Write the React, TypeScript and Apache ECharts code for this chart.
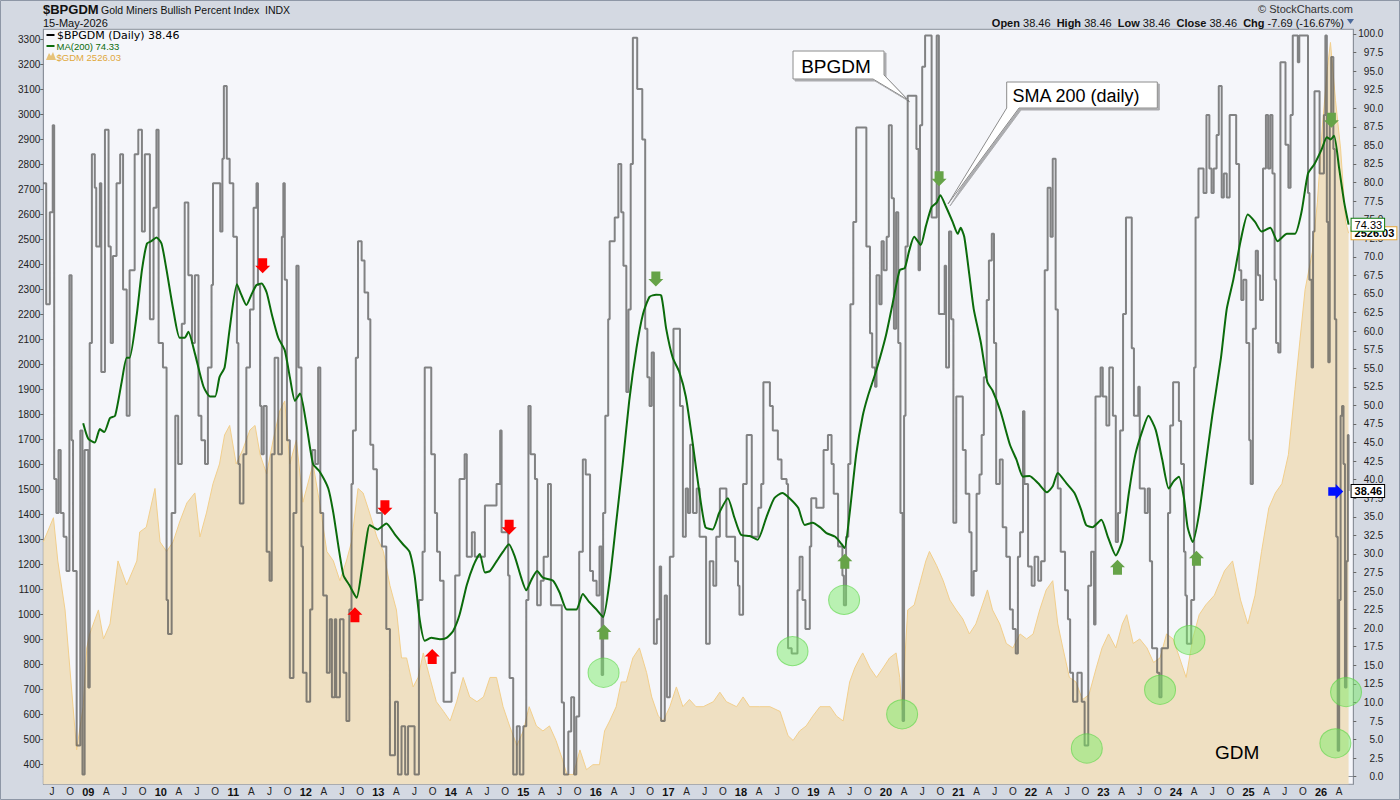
import React, { useEffect, useRef } from "react";
import * as echarts from "echarts";

// ---------- DATA (x = decimal year) ----------
// $BPGDM daily bullish percent, read as [date, value] step points
const bpgdmPoints: [number, number][] = [
  [2008.38, 79.9], [2008.42, 63.6], [2008.47, 76], [2008.51, 87.7], [2008.53, 40.1], [2008.56, 35.5],
  [2008.59, 44], [2008.62, 35.5], [2008.66, 32.3], [2008.7, 27.7], [2008.74, 67.5], [2008.77, 45.3],
  [2008.79, 27.7], [2008.84, 4.2], [2008.89, 46.6], [2008.92, 0.3], [2008.95, 44], [2009.0, 12],
  [2009.02, 58.4], [2009.05, 83.8], [2009.09, 79.3], [2009.11, 71.4], [2009.16, 79.9], [2009.18, 54.5],
  [2009.23, 87.1], [2009.28, 71.4], [2009.31, 58.4], [2009.34, 70.1], [2009.39, 79.9], [2009.44, 83.8],
  [2009.48, 65.6], [2009.53, 48.6], [2009.57, 68.2], [2009.64, 83.8], [2009.69, 87.1], [2009.74, 73.4],
  [2009.78, 83.8], [2009.85, 61.6], [2009.9, 76.6], [2009.94, 87.1], [2009.97, 58.4], [2010.03, 55.1],
  [2010.08, 23.8], [2010.1, 19.2], [2010.15, 35.5], [2010.2, 48.6], [2010.24, 42.1], [2010.29, 61],
  [2010.33, 77.3], [2010.38, 67.5], [2010.43, 58.4], [2010.47, 67.5], [2010.52, 48.6], [2010.56, 45.3],
  [2010.61, 42.1], [2010.65, 55.1], [2010.7, 66.2], [2010.72, 79.9], [2010.82, 73.4], [2010.85, 83.2],
  [2010.87, 93], [2010.91, 83.2], [2010.95, 79.9], [2011.0, 72.7], [2011.05, 58.4], [2011.07, 42.1],
  [2011.09, 36.8], [2011.14, 43.4], [2011.18, 55.1], [2011.23, 62.9], [2011.28, 76.6], [2011.32, 79.9],
  [2011.34, 66.2], [2011.37, 49.9], [2011.39, 43.4], [2011.42, 49.9], [2011.46, 30.3], [2011.5, 26.4],
  [2011.53, 43.4], [2011.57, 56.4], [2011.62, 43.4], [2011.67, 72.7], [2011.69, 79.9], [2011.71, 66.9],
  [2011.74, 45.3], [2011.78, 13.3], [2011.83, 35.5], [2011.87, 68.8], [2011.9, 55.1], [2011.94, 31],
  [2011.96, 14], [2012.01, 10.1], [2012.06, 22.5], [2012.09, 44], [2012.13, 42.1], [2012.17, 55.1],
  [2012.2, 35.5], [2012.24, 24.4], [2012.29, 14], [2012.33, 21.2], [2012.36, 10.7], [2012.4, 21.2],
  [2012.42, 10.7], [2012.47, 21.2], [2012.52, 14], [2012.56, 7.5], [2012.6, 22.5], [2012.63, 39.4],
  [2012.65, 46.6], [2012.69, 56.4], [2012.72, 72.1], [2012.77, 69.5], [2012.81, 65.2], [2012.86, 61.6],
  [2012.89, 44.7], [2012.93, 41.4], [2012.98, 35.5], [2013.05, 31], [2013.11, 19.9], [2013.16, 2.9],
  [2013.23, 10.1], [2013.27, 0.3], [2013.32, 6.8], [2013.37, 0.3], [2013.41, 6.8], [2013.5, 0.3],
  [2013.56, 23.8], [2013.61, 30.3], [2013.64, 55.1], [2013.73, 43.4], [2013.78, 35.5], [2013.81, 30.3],
  [2013.85, 26.4], [2013.9, 10.1], [2014.01, 14], [2014.06, 27.1], [2014.12, 40.1], [2014.19, 43.4],
  [2014.22, 29.6], [2014.29, 32.9], [2014.33, 29.6], [2014.47, 36.5], [2014.63, 39.4], [2014.68, 46.6],
  [2014.7, 32.9], [2014.79, 27.1], [2014.81, 13.3], [2014.86, 0.3], [2014.91, 6.8], [2014.95, 0.3],
  [2015.0, 6.8], [2015.04, 23.8], [2015.07, 49.9], [2015.1, 43.4], [2015.16, 40.1], [2015.19, 23.1],
  [2015.24, 26.4], [2015.28, 29.6], [2015.34, 39.4], [2015.38, 23.1], [2015.53, 10], [2015.56, 0.3],
  [2015.62, 6.1], [2015.66, 10.7], [2015.7, 0.3], [2015.73, 8.1], [2015.77, 30.3], [2015.82, 42.7],
  [2015.86, 40.7], [2015.92, 27.7], [2015.96, 26.4], [2016.01, 24.4], [2016.05, 31], [2016.08, 13.7],
  [2016.1, 35.5], [2016.13, 48.6], [2016.17, 61.6], [2016.19, 72.1], [2016.26, 75.3], [2016.31, 82.5],
  [2016.35, 76], [2016.38, 68.8], [2016.42, 51.8], [2016.45, 62.9], [2016.48, 82.5], [2016.51, 99.5],
  [2016.57, 92.6], [2016.64, 85.8], [2016.68, 60.3], [2016.71, 53.8], [2016.74, 49.9], [2016.77, 57.1],
  [2016.8, 17.9], [2016.84, 21.2], [2016.88, 28.3], [2016.9, 7.5], [2016.95, 24.4], [2016.98, 10.7],
  [2017.02, 29.6], [2017.07, 60.3], [2017.16, 49.9], [2017.2, 32.3], [2017.24, 38.8], [2017.27, 35.5],
  [2017.3, 44.7], [2017.34, 35.5], [2017.39, 38.8], [2017.43, 32.3], [2017.52, 17.9], [2017.57, 29],
  [2017.62, 25.7], [2017.66, 32.3], [2017.71, 38.8], [2017.8, 32.3], [2017.92, 29], [2017.96, 25.7],
  [2017.98, 21.8], [2018.03, 39.4], [2018.08, 46], [2018.15, 32.3], [2018.24, 36.2], [2018.28, 39.4],
  [2018.31, 53.1], [2018.4, 49.9], [2018.44, 46.6], [2018.51, 42.7], [2018.56, 40.1], [2018.63, 39.4],
  [2018.65, 17.3], [2018.7, 16.6], [2018.78, 25.1], [2018.81, 29.6], [2018.85, 23.8], [2018.89, 19.9],
  [2018.95, 31], [2018.97, 37.5], [2019.04, 36.2], [2019.14, 44], [2019.2, 46], [2019.25, 42.1],
  [2019.28, 38.1], [2019.34, 31], [2019.4, 27.1], [2019.42, 23.1], [2019.45, 32.3], [2019.48, 42.1],
  [2019.51, 63.6], [2019.55, 74.7], [2019.59, 87.4], [2019.73, 71.4], [2019.78, 59.7], [2019.81, 55.1],
  [2019.85, 52.5], [2019.87, 67.5], [2019.91, 63.6], [2019.94, 72.1], [2019.97, 68.2], [2020.01, 72.7],
  [2020.04, 87.7], [2020.08, 77.9], [2020.11, 60.3], [2020.14, 76], [2020.17, 58.4], [2020.2, 35.5],
  [2020.23, 7.5], [2020.25, 48.6], [2020.27, 71.4], [2020.3, 91.7], [2020.42, 84.5], [2020.45, 68.2],
  [2020.47, 87.7], [2020.5, 95.6], [2020.54, 99.8], [2020.63, 75.3], [2020.7, 99.8], [2020.73, 62.3],
  [2020.81, 68.8], [2020.83, 55.1], [2020.87, 73.4], [2020.9, 61.6], [2020.93, 34.2], [2020.97, 51.2],
  [2021.06, 44], [2021.1, 38.1], [2021.15, 32.9], [2021.18, 24.4], [2021.21, 27.7], [2021.25, 38.1],
  [2021.29, 40.7], [2021.32, 46], [2021.35, 53.8], [2021.39, 64.2], [2021.42, 69.5], [2021.46, 73.1],
  [2021.49, 58.4], [2021.52, 39.4], [2021.57, 42.7], [2021.61, 33.6], [2021.66, 29.6], [2021.71, 22.5],
  [2021.75, 19.9], [2021.79, 16.6], [2021.82, 29.6], [2021.85, 32.9], [2021.89, 49.2], [2021.91, 39.4],
  [2021.96, 28.3], [2022.01, 25.7], [2022.05, 29.6], [2022.1, 26.4], [2022.14, 29], [2022.19, 68.2],
  [2022.23, 79.3], [2022.27, 72.7], [2022.3, 83.2], [2022.34, 62.9], [2022.37, 38.8], [2022.41, 30.3],
  [2022.47, 25.1], [2022.51, 21.2], [2022.54, 14], [2022.58, 10.1], [2022.64, 14], [2022.7, 10.1],
  [2022.74, 4.2], [2022.79, 25.7], [2022.83, 30.3], [2022.87, 20.5], [2022.89, 51.2], [2022.96, 55.1],
  [2022.99, 51.2], [2023.04, 47.3], [2023.08, 55.1], [2023.13, 48.6], [2023.17, 31.6], [2023.2, 35.5],
  [2023.23, 46.6], [2023.27, 62.3], [2023.31, 75.3], [2023.39, 57.7], [2023.42, 48.6], [2023.48, 52.5],
  [2023.5, 38.8], [2023.57, 35.5], [2023.61, 38.8], [2023.64, 29], [2023.67, 17.3], [2023.74, 14],
  [2023.77, 10.7], [2023.8, 17.3], [2023.89, 35.5], [2023.92, 47.3], [2023.96, 53.1], [2024.04, 47.9],
  [2024.07, 42.1], [2024.11, 30.3], [2024.13, 24.4], [2024.15, 17.9], [2024.21, 23.8], [2024.25, 55.1],
  [2024.27, 75.3], [2024.31, 81.9], [2024.38, 78.6], [2024.42, 89.1], [2024.46, 81.9], [2024.49, 78.6],
  [2024.52, 81.9], [2024.56, 86.4], [2024.59, 93], [2024.63, 78], [2024.66, 81.2], [2024.7, 78],
  [2024.74, 89.1], [2024.83, 82.5], [2024.87, 68.2], [2024.9, 64.2], [2024.93, 66.9], [2024.97, 58.4],
  [2025.01, 45.3], [2025.03, 39.4], [2025.06, 60.3], [2025.1, 70.8], [2025.13, 67.5], [2025.16, 64.2],
  [2025.2, 81.9], [2025.24, 89.1], [2025.27, 81.9], [2025.3, 89.1], [2025.33, 81.2], [2025.36, 66.9],
  [2025.38, 58.4], [2025.41, 57.1], [2025.44, 96.2], [2025.51, 85.1], [2025.55, 79.3], [2025.58, 89.1],
  [2025.61, 99.8], [2025.68, 96.2], [2025.7, 99.8], [2025.82, 78.6], [2025.84, 66.9], [2025.87, 55.1],
  [2025.89, 73.4], [2025.91, 92.3], [2025.98, 81.2], [2026.04, 89.1], [2026.06, 99.8], [2026.08, 74.7],
  [2026.1, 55.8], [2026.12, 89.1], [2026.14, 96.9], [2026.17, 84.5], [2026.19, 61.6], [2026.21, 32.3],
  [2026.23, 3.5], [2026.25, 23.8], [2026.27, 48.6], [2026.29, 49.9], [2026.31, 42.1], [2026.33, 12],
  [2026.35, 29], [2026.37, 46], [2026.38, 38.46],
];

// MA(200) of $BPGDM
const smaPoints: [number, number][] = [
  [2008.93, 47.6], [2009.0, 45.5], [2009.09, 45.0], [2009.16, 46.8], [2009.22, 46.4], [2009.3, 48.3],
  [2009.37, 48.6], [2009.46, 53.1], [2009.53, 56.4], [2009.57, 56.4], [2009.67, 62.3], [2009.74, 68.2],
  [2009.81, 71.8], [2009.87, 72.1], [2009.94, 72.6], [2010.01, 71.8], [2010.08, 68.2], [2010.17, 63.0],
  [2010.26, 59.1], [2010.33, 59.1], [2010.38, 59.9], [2010.47, 57.0], [2010.59, 52.5], [2010.68, 51.2],
  [2010.75, 51.2], [2010.81, 53.8], [2010.88, 55.1], [2010.95, 60.3], [2011.05, 66.3], [2011.11, 64.9],
  [2011.18, 63.5], [2011.25, 64.9], [2011.32, 66.2], [2011.39, 66.4], [2011.46, 65.2], [2011.53, 62.3],
  [2011.62, 59.1], [2011.71, 57.4], [2011.78, 53.8], [2011.85, 50.6], [2011.92, 51.6], [2012.01, 47.3],
  [2012.1, 42.1], [2012.19, 41.1], [2012.31, 38.8], [2012.38, 35.5], [2012.45, 31.0], [2012.52, 27.1],
  [2012.6, 25.8], [2012.7, 24.1], [2012.77, 27.7], [2012.83, 31.6], [2012.88, 33.9], [2012.99, 33.3],
  [2013.11, 34.1], [2013.23, 32.6], [2013.34, 31.3], [2013.43, 30.3], [2013.5, 27.1], [2013.57, 21.2],
  [2013.64, 18.3], [2013.73, 18.7], [2013.85, 18.5], [2013.94, 18.7], [2014.03, 19.6], [2014.12, 21.8],
  [2014.22, 25.8], [2014.31, 28.4], [2014.4, 30.0], [2014.47, 27.5], [2014.54, 27.7], [2014.63, 29.0],
  [2014.72, 30.3], [2014.8, 31.3], [2014.88, 29.7], [2014.97, 26.8], [2015.04, 25.1], [2015.11, 26.5],
  [2015.19, 27.7], [2015.27, 26.8], [2015.41, 26.4], [2015.5, 24.8], [2015.6, 22.5], [2015.73, 22.5],
  [2015.82, 24.6], [2015.91, 23.5], [2016.01, 22.5], [2016.1, 21.5], [2016.19, 26.4], [2016.28, 34.2],
  [2016.37, 42.1], [2016.46, 50.6], [2016.56, 57.7], [2016.65, 62.3], [2016.74, 64.6], [2016.83, 64.9],
  [2016.9, 64.8], [2016.97, 60.3], [2017.06, 56.4], [2017.15, 54.5], [2017.24, 51.2], [2017.33, 45.3],
  [2017.42, 38.8], [2017.51, 33.6], [2017.61, 33.3], [2017.7, 35.5], [2017.82, 37.5], [2017.91, 34.9],
  [2018.0, 32.6], [2018.12, 32.4], [2018.23, 31.9], [2018.35, 34.9], [2018.46, 37.5], [2018.57, 38.2],
  [2018.67, 37.5], [2018.79, 36.2], [2018.88, 33.9], [2018.99, 34.2], [2019.09, 33.6], [2019.18, 32.8],
  [2019.3, 32.3], [2019.39, 31.3], [2019.43, 30.8], [2019.5, 35.5], [2019.59, 43.4], [2019.68, 48.6],
  [2019.75, 51.2], [2019.87, 54.8], [2020.0, 59.4], [2020.09, 63.6], [2020.19, 68.2], [2020.26, 68.5],
  [2020.32, 70.8], [2020.39, 72.7], [2020.48, 71.6], [2020.55, 74.1], [2020.63, 76.7], [2020.7, 77.3],
  [2020.75, 78.3], [2020.83, 76.7], [2020.92, 74.7], [2020.99, 73.1], [2021.03, 73.9], [2021.08, 72.7],
  [2021.15, 67.6], [2021.21, 63.0], [2021.31, 58.4], [2021.4, 53.1], [2021.47, 52.0], [2021.58, 49.2],
  [2021.71, 44.7], [2021.8, 42.7], [2021.89, 40.4], [2021.98, 40.5], [2022.1, 39.5], [2022.22, 38.3],
  [2022.3, 39.1], [2022.37, 40.9], [2022.49, 39.5], [2022.6, 38.2], [2022.69, 36.0], [2022.76, 33.9],
  [2022.85, 33.6], [2022.97, 34.6], [2023.06, 32.3], [2023.17, 29.8], [2023.26, 31.8], [2023.35, 38.2],
  [2023.44, 43.4], [2023.54, 46.7], [2023.62, 48.6], [2023.72, 46.7], [2023.81, 42.7], [2023.9, 38.8],
  [2023.97, 39.8], [2024.04, 40.4], [2024.11, 37.5], [2024.16, 33.6], [2024.23, 31.6], [2024.32, 35.5],
  [2024.41, 42.1], [2024.5, 48.6], [2024.62, 56.4], [2024.7, 63.0], [2024.79, 66.9], [2024.89, 72.1],
  [2024.99, 75.7], [2025.09, 74.7], [2025.18, 73.4], [2025.3, 73.9], [2025.4, 72.1], [2025.53, 73.1],
  [2025.64, 73.1], [2025.73, 76.0], [2025.82, 81.2], [2025.91, 82.5], [2026.01, 84.5], [2026.08, 86.1],
  [2026.13, 85.8], [2026.18, 86.3], [2026.25, 81.9], [2026.32, 77.3], [2026.38, 74.33],
];

// $GDM (Gold Miners index), left axis
const gdmPoints: [number, number][] = [
  [2008.38, 1291], [2008.52, 1388], [2008.58, 1215], [2008.68, 1019], [2008.79, 632], [2008.84, 459],
  [2008.93, 632], [2008.98, 867], [2009.02, 923], [2009.14, 1019], [2009.21, 903], [2009.3, 963],
  [2009.41, 1215], [2009.53, 1119], [2009.67, 1215], [2009.71, 1331], [2009.8, 1350], [2009.92, 1505],
  [2009.99, 1291], [2010.08, 1253], [2010.17, 1291], [2010.26, 1371], [2010.36, 1447], [2010.47, 1487],
  [2010.54, 1311], [2010.63, 1407], [2010.72, 1524], [2010.81, 1603], [2010.88, 1719], [2010.95, 1757],
  [2011.04, 1603], [2011.13, 1660], [2011.23, 1739], [2011.3, 1757], [2011.37, 1640], [2011.46, 1563],
  [2011.55, 1699], [2011.64, 1815], [2011.71, 1855], [2011.78, 1603], [2011.87, 1699], [2011.96, 1450],
  [2012.1, 1603], [2012.19, 1447], [2012.29, 1253], [2012.38, 1215], [2012.47, 1136], [2012.56, 1215],
  [2012.63, 1291], [2012.72, 1505], [2012.79, 1487], [2012.88, 1407], [2012.98, 1311], [2013.07, 1253],
  [2013.16, 1117], [2013.25, 1019], [2013.32, 827], [2013.39, 827], [2013.48, 711], [2013.55, 750],
  [2013.62, 847], [2013.71, 749], [2013.8, 652], [2013.9, 613], [2013.99, 575], [2014.08, 652],
  [2014.17, 749], [2014.26, 671], [2014.36, 652], [2014.45, 671], [2014.54, 749], [2014.63, 749],
  [2014.72, 632], [2014.81, 555], [2014.91, 477], [2015.0, 535], [2015.08, 632], [2015.18, 555],
  [2015.27, 535], [2015.36, 555], [2015.45, 497], [2015.54, 420], [2015.6, 361], [2015.69, 361],
  [2015.78, 459], [2015.87, 380], [2015.96, 400], [2016.05, 400], [2016.12, 535], [2016.19, 575],
  [2016.28, 632], [2016.35, 731], [2016.42, 731], [2016.51, 827], [2016.6, 867], [2016.7, 768],
  [2016.77, 671], [2016.86, 595], [2016.93, 575], [2017.02, 632], [2017.11, 711], [2017.2, 632],
  [2017.29, 661], [2017.38, 632], [2017.48, 632], [2017.62, 652], [2017.71, 690], [2017.8, 652],
  [2017.94, 632], [2018.03, 671], [2018.12, 632], [2018.26, 632], [2018.4, 632], [2018.54, 613],
  [2018.65, 516], [2018.72, 497], [2018.81, 535], [2018.9, 555], [2018.99, 594], [2019.09, 632],
  [2019.23, 632], [2019.32, 594], [2019.41, 575], [2019.5, 731], [2019.57, 787], [2019.64, 827],
  [2019.68, 847], [2019.78, 787], [2019.87, 749], [2019.96, 787], [2020.05, 827], [2020.14, 847],
  [2020.19, 749], [2020.22, 620], [2020.3, 1019], [2020.39, 1039], [2020.46, 1117], [2020.55, 1215],
  [2020.6, 1253], [2020.7, 1196], [2020.79, 1136], [2020.88, 1059], [2020.97, 1019], [2021.06, 983],
  [2021.15, 923], [2021.24, 963], [2021.33, 1039], [2021.4, 1099], [2021.47, 1019], [2021.57, 963],
  [2021.66, 885], [2021.75, 867], [2021.85, 923], [2021.94, 903], [2022.03, 923], [2022.12, 1019],
  [2022.21, 1099], [2022.3, 1136], [2022.37, 963], [2022.44, 867], [2022.53, 749], [2022.62, 731],
  [2022.71, 660], [2022.8, 680], [2022.9, 787], [2022.98, 867], [2023.07, 923], [2023.17, 867],
  [2023.26, 963], [2023.32, 1000], [2023.41, 885], [2023.5, 903], [2023.6, 867], [2023.69, 809],
  [2023.78, 827], [2023.87, 923], [2023.96, 903], [2024.05, 827], [2024.14, 749], [2024.23, 903],
  [2024.32, 1000], [2024.41, 1039], [2024.53, 1078], [2024.67, 1176], [2024.78, 1215], [2024.89, 1059],
  [2024.99, 963], [2025.09, 1078], [2025.18, 1253], [2025.28, 1427], [2025.37, 1487], [2025.46, 1524],
  [2025.55, 1640], [2025.64, 1900], [2025.71, 2100], [2025.78, 2300], [2025.88, 2450], [2025.95, 2650],
  [2026.02, 2959], [2026.09, 3192], [2026.13, 3289], [2026.2, 3056], [2026.27, 2863], [2026.34, 2571],
  [2026.38, 2526.03],
];

// Annotation marks, placed on the BPGDM (right) scale
const greenCircles: [number, number][] = [
  [2016.106, 14.0], [2018.712, 16.9], [2019.423, 23.8], [2020.223, 8.4], [2022.77, 3.8],
  [2023.78, 11.7], [2024.186, 18.4], [2026.198, 4.5], [2026.345, 11.4],
];
const redDownArrows: [number, number][] = [[2011.405, 68.8], [2013.091, 36.2], [2014.804, 33.6]];
const redUpArrows: [number, number][] = [[2012.677, 21.8], [2013.743, 16.2]];
const greenDownArrows: [number, number][] = [[2016.827, 67.0], [2020.733, 80.5], [2026.143, 88.4]];
const greenUpArrows: [number, number][] = [[2016.11, 19.5], [2019.433, 29.0], [2023.193, 28.2], [2024.282, 29.4]];
const blueArrows: [number, number][] = [[2026.203, 38.4]];

const leftTicks: number[] = [];
for (let v = 400; v <= 3300; v += 100) leftTicks.push(v);
const rightTicks: number[] = [];
for (let i = 0; i <= 40; i++) rightTicks.push(i * 2.5);
const quarterTicks: number[] = [];
for (let y = 2008; y <= 2026; y++) {
  for (let q = 0; q < 4; q++) {
    const v = y + q * 0.25;
    if (v > 2008.4 && v < 2026.44) quarterTicks.push(v);
  }
}
const monthLetters = ["", "A", "J", "O"];

const FONT = "'Liberation Sans', Arial, sans-serif";
const X_MIN = 2008.38;
const X_MAX = 2026.445;

const DOWN = "path://M3,0L12,0L12,7.5L15,7.5L7.5,15L0,7.5L3,7.5Z";
const UP = "path://M7.5,0L15,7.5L12,7.5L12,15L3,15L3,7.5L0,7.5Z";
const RIGHT = "path://M0,3L7.5,3L7.5,0L15,7L7.5,14L7.5,11L0,11Z";

function arrowSeries(data: [number, number][], symbol: string, color: string) {
  return {
    type: "scatter",
    yAxisIndex: 1,
    data,
    symbol,
    symbolSize: [15, 15],
    itemStyle: { color, opacity: 1 },
    silent: true,
    z: 7,
  };
}

export default function App() {
  const ref = useRef<HTMLDivElement>(null);

  useEffect(() => {
    if (!ref.current) return;
    const chart = echarts.init(ref.current, null, { renderer: "svg" });

    const tag = (text: string, border: string, bold: boolean) => ({
      show: true,
      formatter: () => text,
      fontFamily: FONT,
      fontSize: 11,
      fontWeight: bold ? "bold" : "normal",
      color: "#000",
      backgroundColor: "#fff",
      borderColor: border,
      borderWidth: 1,
      padding: [1, 2, 0, 3],
      distance: 3,
    });

    const option: any = {
      animation: false,
      backgroundColor: "#d4d9e2",
      grid: {
        left: 43.3,
        right: 46.7,
        top: 29.3,
        bottom: 15.7,
        show: true,
        backgroundColor: "#f5f6fa",
        borderColor: "#8a909a",
        borderWidth: 1,
      },
      xAxis: {
        type: "value",
        min: X_MIN,
        max: X_MAX,
        splitLine: { show: false },
        axisLine: { show: true, lineStyle: { color: "#8a909a" } },
        axisTick: { show: true, customValues: quarterTicks, length: 3, lineStyle: { color: "#666" } },
        axisLabel: {
          customValues: quarterTicks,
          fontFamily: FONT,
          fontSize: 10,
          color: "#222",
          margin: 2,
          formatter: (v: number) => {
            const y = Math.floor(v + 1e-6);
            const q = Math.round((v - y) * 4);
            if (q === 0) return "{y|" + String(y % 100).padStart(2, "0") + "}";
            return monthLetters[q];
          },
          rich: { y: { fontWeight: "bold", fontSize: 11, fontFamily: FONT, color: "#111" } },
        },
      },
      yAxis: [
        {
          type: "value",
          position: "left",
          min: 321.6,
          max: 3341.6,
          splitLine: { show: false },
          axisLine: { show: true, lineStyle: { color: "#8a909a" } },
          axisTick: { show: true, customValues: leftTicks, length: 3, lineStyle: { color: "#666" } },
          axisLabel: {
            customValues: leftTicks,
            fontFamily: FONT,
            fontSize: 10,
            color: "#222",
            margin: 3,
            formatter: (v: number) => String(Math.round(v)),
          },
        },
        {
          type: "value",
          position: "right",
          min: -1.02,
          max: 100.63,
          splitLine: { show: false },
          axisLine: { show: true, lineStyle: { color: "#8a909a" } },
          axisTick: { show: true, customValues: rightTicks, length: 3, lineStyle: { color: "#666" } },
          axisLabel: {
            customValues: rightTicks,
            fontFamily: FONT,
            fontSize: 10,
            color: "#222",
            margin: 30,
            align: "right",
            formatter: (v: number) => v.toFixed(1),
          },
        },
      ],
      series: [
        {
          name: "$GDM",
          type: "line",
          yAxisIndex: 0,
          data: gdmPoints,
          showSymbol: false,
          symbol: "none",
          lineStyle: { color: "#f2cf8c", width: 1 },
          areaStyle: { color: "#efe0c2", opacity: 1, origin: "start" },
          z: 2,
          silent: true,
          endLabel: tag("2526.03", "#e8a838", true),
        },
        {
          name: "$BPGDM",
          type: "line",
          yAxisIndex: 1,
          data: bpgdmPoints,
          step: "end",
          showSymbol: false,
          symbol: "none",
          lineStyle: { color: "rgba(85,85,85,0.72)", width: 2 },
          z: 3,
          silent: true,
          endLabel: tag("38.46", "#000", true),
        },
        {
          name: "MA(200)",
          type: "line",
          yAxisIndex: 1,
          data: smaPoints,
          smooth: 0.2,
          showSymbol: false,
          symbol: "none",
          lineStyle: { color: "#0b6b0b", width: 2 },
          z: 4,
          silent: true,
          endLabel: tag("74.33", "#0b7a0b", false),
        },
        {
          type: "scatter",
          yAxisIndex: 1,
          data: greenCircles,
          symbol: "circle",
          symbolSize: [31, 29],
          itemStyle: { color: "rgba(120,236,100,0.6)", borderColor: "rgba(90,215,70,0.8)", borderWidth: 1 },
          silent: true,
          z: 6,
        },
        arrowSeries(redDownArrows, DOWN, "#ff0000"),
        arrowSeries(redUpArrows, UP, "#ff0000"),
        arrowSeries(greenDownArrows, DOWN, "#66a348"),
        arrowSeries(greenUpArrows, UP, "#66a348"),
        arrowSeries(blueArrows, RIGHT, "#0010ff"),
      ],
      graphic: [
        { type: "rect", shape: { x: 0.5, y: 0.5, width: 1399, height: 799 }, style: { fill: "none", stroke: "#8e97a6", lineWidth: 1 }, silent: true },
        // header
        { type: "text", style: { x: 43, y: 9, text: "$BPGDM", font: `bold 13px ${FONT}`, fill: "#111", verticalAlign: "middle" } },
        { type: "text", style: { x: 101, y: 9.5, text: "Gold Miners Bullish Percent Index  INDX", font: `10.5px ${FONT}`, fill: "#111", verticalAlign: "middle" } },
        { type: "text", style: { x: 43, y: 22.5, text: "15-May-2026", font: `11px ${FONT}`, fill: "#111", verticalAlign: "middle" } },
        { type: "text", style: { x: 1353, y: 9, text: "© StockCharts.com", font: `11px ${FONT}`, fill: "#333", align: "right", verticalAlign: "middle" } },
        {
          type: "text",
          style: {
            x: 1344,
            y: 22.5,
            text: "{b|Open} 38.46  {b|High} 38.46  {b|Low} 38.46  {b|Close} 38.46  {b|Chg} -7.69 (-16.67%)",
            font: `11px ${FONT}`,
            fill: "#111",
            align: "right",
            verticalAlign: "middle",
            rich: { b: { fontWeight: "bold", fontSize: 11, fontFamily: FONT, fill: "#111" } },
          },
        },
        { type: "polygon", shape: { points: [[1347, 19], [1354, 19], [1350.5, 24]] }, style: { fill: "#4b6a9b" } },
        // legend
        { type: "rect", shape: { x: 46.5, y: 34, width: 8, height: 2 }, style: { fill: "#000" } },
        { type: "text", style: { x: 57, y: 35.5, text: "$BPGDM (Daily) 38.46", font: `11px 'DejaVu Sans', sans-serif`, fill: "#000", verticalAlign: "middle" } },
        { type: "rect", shape: { x: 46.5, y: 45, width: 8, height: 2 }, style: { fill: "#0b6b0b" } },
        { type: "text", style: { x: 56.5, y: 46.5, text: "MA(200) 74.33", font: `9.5px ${FONT}`, fill: "#0b6b0b", verticalAlign: "middle" } },
        { type: "polygon", shape: { points: [[46, 60], [49, 53], [51, 56], [53, 52], [56, 60]] }, style: { fill: "#e6c27a" } },
        { type: "text", style: { x: 56.5, y: 57, text: "$GDM 2526.03", font: `9.5px ${FONT}`, fill: "#e0a83c", verticalAlign: "middle" } },
        // callouts
        {
          type: "polygon",
          shape: { points: [[793, 51], [884, 51], [884, 75], [908, 100], [873, 79], [793, 79]] },
          style: { fill: "#fff", stroke: "#8c8c8c", lineWidth: 1, shadowColor: "rgba(0,0,0,0.3)", shadowOffsetX: 2, shadowOffsetY: 2, shadowBlur: 1 },
          z: 100,
        },
        { type: "text", style: { x: 836, y: 66, text: "BPGDM", font: `19px ${FONT}`, fill: "#000", align: "center", verticalAlign: "middle" }, z: 101 },
        {
          type: "polygon",
          shape: { points: [[1006.7, 82], [1157.3, 82], [1157.3, 108], [1019, 108], [948, 204], [1006.7, 108]] },
          style: { fill: "#fff", stroke: "#8c8c8c", lineWidth: 1, shadowColor: "rgba(0,0,0,0.3)", shadowOffsetX: 2, shadowOffsetY: 2, shadowBlur: 1 },
          z: 100,
        },
        { type: "text", style: { x: 1076, y: 96, text: "SMA 200 (daily)", font: `18px ${FONT}`, fill: "#000", align: "center", verticalAlign: "middle" }, z: 101 },
        { type: "text", style: { x: 1215, y: 752, text: "GDM", font: `19px ${FONT}`, fill: "#000", verticalAlign: "middle" }, z: 101 },
      ],
    };

    chart.setOption(option);
    return () => chart.dispose();
  }, []);

  return <div ref={ref} style={{ position: "absolute", left: 0, top: 0, width: 1400, height: 800 }} />;
}
